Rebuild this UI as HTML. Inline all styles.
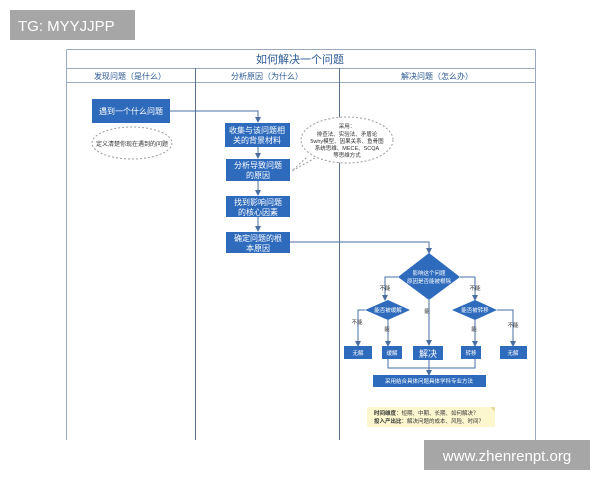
<!DOCTYPE html>
<html><head><meta charset="utf-8"><style>
html,body{margin:0;padding:0;background:#fff;width:600px;height:480px;overflow:hidden}
svg{display:block}
text{font-family:"Liberation Sans","Noto Sans CJK SC",sans-serif}
</style></head><body>
<svg width="600" height="480" viewBox="0 0 600 480" xmlns="http://www.w3.org/2000/svg">
<defs><marker id="a" markerWidth="6" markerHeight="6" refX="5" refY="3" orient="auto" markerUnits="userSpaceOnUse"><path d="M0,0 L6,3 L0,6 z" fill="#4a6fa0"/></marker></defs>
<!-- frame -->
<g stroke="#9aa9bb" stroke-width="1" fill="none">
<line x1="66.5" y1="49.5" x2="535.5" y2="49.5"/>
<line x1="66.5" y1="49.5" x2="66.5" y2="440"/>
<line x1="535.5" y1="49.5" x2="535.5" y2="440"/>
<line x1="66.5" y1="68.5" x2="535.5" y2="68.5"/>
<line x1="66.5" y1="82.5" x2="535.5" y2="82.5"/>
</g>
<g stroke="#5a6f8a" stroke-width="1">
<line x1="195.5" y1="68" x2="195.5" y2="440"/>
<line x1="339.5" y1="68" x2="339.5" y2="440"/>
</g>
<text x="300" y="63" font-size="11" fill="#2c5a95" text-anchor="middle">如何解决一个问题</text>
<g font-size="8" fill="#2c5a95" text-anchor="middle">
<text x="130" y="79">发现问题（是什么）</text>
<text x="267" y="79">分析原因（为什么）</text>
<text x="437" y="79">解决问题（怎么办）</text>
</g>
<!-- connectors -->
<g stroke="#4a6fa0" stroke-width="1" fill="none">
<polyline points="170,111 258,111 258,122" marker-end="url(#a)"/>
<line x1="258" y1="147" x2="258" y2="158" marker-end="url(#a)"/>
<line x1="258" y1="181" x2="258" y2="195" marker-end="url(#a)"/>
<line x1="258" y1="217" x2="258" y2="231" marker-end="url(#a)"/>
<polyline points="290,242 429,242 429,253" marker-end="url(#a)"/>
<polyline points="398,277 385,277 385,300" marker-end="url(#a)"/>
<polyline points="460,277 475,277 475,300" marker-end="url(#a)"/>
<line x1="429" y1="300" x2="429" y2="345" marker-end="url(#a)"/>
<polyline points="365,310 358,310 358,346" marker-end="url(#a)"/>
<line x1="388" y1="320" x2="388" y2="346" marker-end="url(#a)"/>
<line x1="475" y1="320" x2="475" y2="346" marker-end="url(#a)"/>
<polyline points="497,310 513,310 513,346" marker-end="url(#a)"/>
<polyline points="388,359 388,368 475,368 475,359"/>
<line x1="429" y1="360" x2="429" y2="375" marker-end="url(#a)"/>
</g>
<!-- ellipses -->
<ellipse cx="132" cy="143" rx="40" ry="16" fill="#fff" stroke="#999" stroke-dasharray="2,2"/>
<text x="132" y="146" font-size="6" fill="#333" text-anchor="middle">定义清楚你现在遇到的问题</text>
<path d="M315,158 L292,171 L308,156" fill="#fff" stroke="#999" stroke-dasharray="2,2"/>
<ellipse cx="347" cy="140" rx="46" ry="23" fill="#fff" stroke="#999" stroke-dasharray="2,2"/>
<g font-size="5.5" fill="#333" text-anchor="middle">
<text x="347" y="128">采用：</text>
<text x="347" y="136">排查法、实验法、矛盾论</text>
<text x="347" y="143">5why模型、因果关系、鱼骨图</text>
<text x="347" y="150">系统思维、MECE、SCQA</text>
<text x="347" y="157">等思维方式</text>
</g>
<!-- boxes -->
<g fill="#2e6bbd">
<rect x="92" y="99" width="78" height="24"/>
<rect x="225" y="123" width="65" height="24"/>
<rect x="226" y="159" width="64" height="22"/>
<rect x="226" y="196" width="64" height="21"/>
<rect x="226" y="232" width="64" height="21"/>
<polygon points="429,253 460,277 429,300 398,277"/>
<polygon points="388,300 410,310 388,320 365,310"/>
<polygon points="475,300 497,310 475,320 452,310"/>
<rect x="344" y="346" width="28" height="13"/>
<rect x="382" y="346" width="20" height="13"/>
<rect x="413" y="346" width="30" height="14"/>
<rect x="461" y="346" width="20" height="13"/>
<rect x="500" y="346" width="27" height="13"/>
<rect x="373" y="375" width="113" height="12"/>
</g>
<g fill="#fff" text-anchor="middle">
<text x="131" y="114" font-size="8">遇到一个什么问题</text>
<text x="257" y="133" font-size="8">收集与该问题相</text>
<text x="257" y="143" font-size="8">关的背景材料</text>
<text x="258" y="168" font-size="8">分析导致问题</text>
<text x="258" y="178" font-size="8">的原因</text>
<text x="258" y="205" font-size="8">找到影响问题</text>
<text x="258" y="215" font-size="8">的核心因素</text>
<text x="258" y="241" font-size="8">确定问题的根</text>
<text x="258" y="251" font-size="8">本原因</text>
<text x="429" y="275" font-size="5.5">影响这个问题</text>
<text x="429" y="283" font-size="5.5">原因是否能被根除</text>
<text x="388" y="312" font-size="5.5">能否被缓解</text>
<text x="475" y="312" font-size="5.5">能否被转移</text>
<text x="358" y="355" font-size="5.5">无解</text>
<text x="392" y="355" font-size="5.5">缓解</text>
<text x="428" y="357" font-size="9">解决</text>
<text x="471" y="355" font-size="5.5">转移</text>
<text x="513" y="355" font-size="5.5">无解</text>
<text x="429" y="383" font-size="5.5">采用结合具体问题具体学科专业方法</text>
</g>
<g font-size="5.5" fill="#333" text-anchor="middle">
<text x="385" y="290">不能</text>
<text x="475" y="290">不能</text>
<text x="427" y="313">能</text>
<text x="357" y="324">不能</text>
<text x="387" y="331">能</text>
<text x="474" y="331">能</text>
<text x="513" y="327">不能</text>
</g>
<!-- note -->
<rect x="367" y="407" width="128" height="20" fill="#fdf7cf"/>
<polygon points="490,407 495,407 495,412" fill="#e8dca0"/>
<text x="374" y="415" font-size="5.5" fill="#333"><tspan font-weight="bold">时间维度</tspan>：短期、中期、长期、如何解决？</text>
<text x="374" y="423" font-size="5.5" fill="#333"><tspan font-weight="bold">投入产出比</tspan>：解决问题的成本、风险、时间？</text>
<!-- watermarks -->
<rect x="10" y="10" width="125" height="30" fill="#a6a6a6"/>
<text x="18" y="31" font-size="15" fill="#fff">TG: MYYJJPP</text>
<rect x="424" y="440" width="166" height="30" fill="#a6a6a6"/>
<text x="507" y="461" font-size="15" fill="#fff" text-anchor="middle">www.zhenrenpt.org</text>
</svg>
</body></html>
